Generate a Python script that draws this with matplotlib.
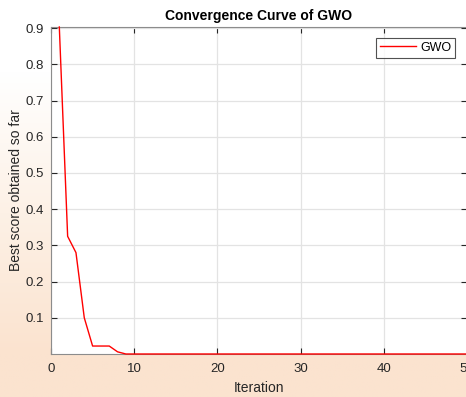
import numpy as np
import matplotlib
matplotlib.use('Agg')
import matplotlib.pyplot as plt
from matplotlib.colors import LinearSegmentedColormap

plt.rcParams['font.family'] = ['Liberation Sans', 'DejaVu Sans']

# convergence data
iterations = list(range(1, 51))
best_score = [0.903, 0.325, 0.280, 0.100, 0.022, 0.022, 0.022, 0.006, 0.0] + [0.0] * 41

title = 'Convergence Curve of GWO'
x_label = 'Iteration'
y_label = 'Best score obtained so far'
legend_label = 'GWO'
x_ticks = [0, 10, 20, 30, 40, 50]
y_ticks = [0.1, 0.2, 0.3, 0.4, 0.5, 0.6, 0.7, 0.8, 0.9]

fig = plt.figure(figsize=(4.66, 3.97), dpi=100, facecolor='white')

# faint peach watermark behind the axes
bg = fig.add_axes([0, 0, 1, 1], zorder=-10)
cmap = LinearSegmentedColormap.from_list('wm', ['#ffffff', '#fdf1e6', '#fbe3cf'])
yy, xx = np.mgrid[0:1:200j, 0:1:200j]
field = np.clip(yy * 1.4 - 0.25, 0, 1)
bg.imshow(field, cmap=cmap, aspect='auto', extent=[0, 1, 0, 1], origin='upper')
bg.axis('off')

ax = fig.add_axes([51 / 466, 1 - 354 / 397, 416 / 466, 327 / 397])
ax.set_facecolor('white')
ax.plot(iterations, best_score, color='#ff0000', lw=1.0, label=legend_label,
        clip_on=False, zorder=5)

ax.set_xlim(0, 50)
ax.set_ylim(0, 0.903)
ax.set_xticks(x_ticks)
ax.set_yticks(y_ticks)
ax.set_yticklabels([f'{v:g}' for v in y_ticks])
ax.grid(True, color='#e3e3e3', lw=0.9)
ax.set_axisbelow(True)
ax.tick_params(direction='in', length=4, width=0.8, colors='#262626',
               labelsize=9.5, top=True, right=True, pad=5)
ax.tick_params(axis='x', pad=6.5)
for s in ax.spines.values():
    s.set_color('#8c8c8c')
    s.set_linewidth(0.8)

ax.set_title(title, fontsize=10, fontweight='bold', pad=5)
ax.set_xlabel(x_label, fontsize=10, color='#262626', labelpad=4.5)
ax.set_ylabel(y_label, fontsize=10, color='#262626', labelpad=1.5)

leg = ax.legend(loc='upper right', bbox_to_anchor=(0.971, 0.966), fontsize=9,
                frameon=True, fancybox=False, handlelength=2.9, borderpad=0.3,
                handletextpad=0.3, borderaxespad=0)
leg.get_frame().set_edgecolor('#262626')
leg.get_frame().set_linewidth(0.8)

fig.savefig('out.png', dpi=100, facecolor=fig.get_facecolor())
